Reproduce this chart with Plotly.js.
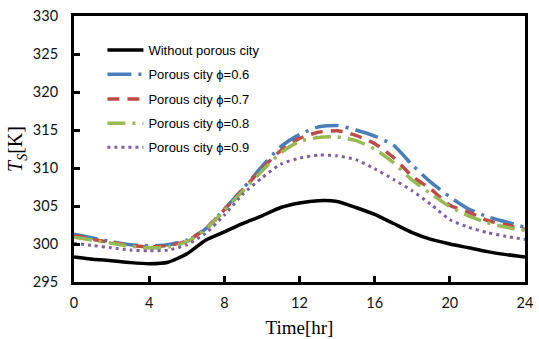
<!DOCTYPE html>
<html>
<head>
<meta charset="utf-8">
<script src="https://cdn.plot.ly/plotly-3.0.1.min.js"></script>
<style>html,body{margin:0;padding:0;background:#fff;}#chart{width:539px;height:339px;}</style>
</head>
<body>
<div id="chart"></div>
<script>
const hours = [0,1,2,3,4,5,6,7,8,9,10,11,12,13,14,15,16,17,18,19,20,21,22,23,24];
const withoutPorous = [298.3,298.0,297.8,297.55,297.4,297.6,298.7,300.5,301.6,302.7,303.7,304.8,305.4,305.7,305.6,304.8,303.9,302.7,301.5,300.6,300.0,299.5,299.0,298.6,298.3];
const phi06 = [301.3,300.8,300.3,299.9,299.75,299.9,300.5,302.0,304.6,307.3,310.2,312.8,314.4,315.4,315.6,315.0,314.2,313.0,310.4,308.1,306.2,304.6,303.6,302.9,302.2];
const phi07 = [301.1,300.6,300.2,299.8,299.6,299.8,300.4,302.0,304.5,307.2,309.9,312.3,313.9,314.7,314.9,314.3,313.2,311.4,308.9,307.2,305.1,304.2,303.1,302.5,301.9];
const phi08 = [300.9,300.5,300.1,299.7,299.5,299.6,300.3,301.9,304.4,307.0,309.6,312.0,313.5,314.0,314.1,313.6,312.5,310.7,308.4,306.6,304.9,303.7,302.8,302.2,301.8];
const phi09 = [300.1,299.8,299.5,299.2,299.1,299.2,299.9,301.4,303.8,306.6,308.7,310.5,311.3,311.7,311.6,311.1,309.9,308.5,307.0,305.2,303.2,302.2,301.5,301.0,300.6];
const seriesNames = ["Without porous city","Porous city ϕ=0.6","Porous city ϕ=0.7","Porous city ϕ=0.8","Porous city ϕ=0.9"];
const xTicks = [0,4,8,12,16,20,24];
const yTicks = [295,300,305,310,315,320,325,330];

const seriesData = [withoutPorous, phi06, phi07, phi08, phi09];
const styles = [
  {color:'#000000', width:3.5, dash:'solid'},
  {color:'#4a7ebb', width:3.5, dash:'24px,7px,3px,7px'},
  {color:'#be4b48', width:3.5, dash:'12px,8px'},
  {color:'#98b954', width:3.5, dash:'18px,7px,3px,7px'},
  {color:'#7d60a0', width:3, dash:'3px,4px'}
];
const legendY = [0.872, 0.781, 0.688, 0.597, 0.506];
const legendIds = ['legend','legend2','legend3','legend4','legend5'];

const traces = seriesData.map((ys, i) => ({
  x: hours, y: ys, type: 'scatter', mode: 'lines', name: seriesNames[i],
  line: {color: styles[i].color, width: styles[i].width, dash: styles[i].dash, shape: 'spline', smoothing: 0.6},
  legend: legendIds[i]
}));

const legFont = {family: '"Liberation Sans", "DejaVu Sans", Arial, sans-serif', size: 13, color: '#000'};
const layout = {
  width: 539, height: 339,
  margin: {l: 74, r: 14, t: 16, b: 57},
  paper_bgcolor: '#fff', plot_bgcolor: '#fff',
  showlegend: true,
  xaxis: {
    range: [0, 24], tickvals: xTicks, ticktext: xTicks.map(String),
    showgrid: false, zeroline: false,
    showline: true, linecolor: '#000', linewidth: 3, mirror: true,
    ticks: 'inside', ticklen: 6, tickwidth: 3, tickcolor: '#000',
    ticklabelstandoff: 6,
    tickfont: {family: 'Lato, "Liberation Sans", sans-serif', size: 14.5, color: '#111'},
    title: {text: 'Time[hr]', font: {family: '"Liberation Serif", "Times New Roman", serif', size: 19, color: '#000'}, standoff: 11}
  },
  yaxis: {
    range: [295, 330], tickvals: yTicks, ticktext: yTicks.map(String),
    showgrid: false, zeroline: false,
    showline: true, linecolor: '#000', linewidth: 3, mirror: true,
    ticks: 'inside', ticklen: 6, tickwidth: 3, tickcolor: '#000',
    ticklabelstandoff: 10,
    tickfont: {family: 'Lato, "Liberation Sans", sans-serif', size: 14.5, color: '#111'},
    title: {text: '<i>T<sub>S</sub></i>[K]', font: {family: '"Liberation Serif", "Times New Roman", serif', size: 20, color: '#000'}, standoff: 5}
  }
};
legendIds.forEach((id, i) => {
  layout[id] = {x: 0.063, xanchor: 'left', y: legendY[i], yanchor: 'middle',
    bgcolor: 'rgba(0,0,0,0)', borderwidth: 0, font: legFont, itemwidth: 36};
});

Plotly.newPlot('chart', traces, layout, {displayModeBar: false, staticPlot: true});
</script>
</body>
</html>
